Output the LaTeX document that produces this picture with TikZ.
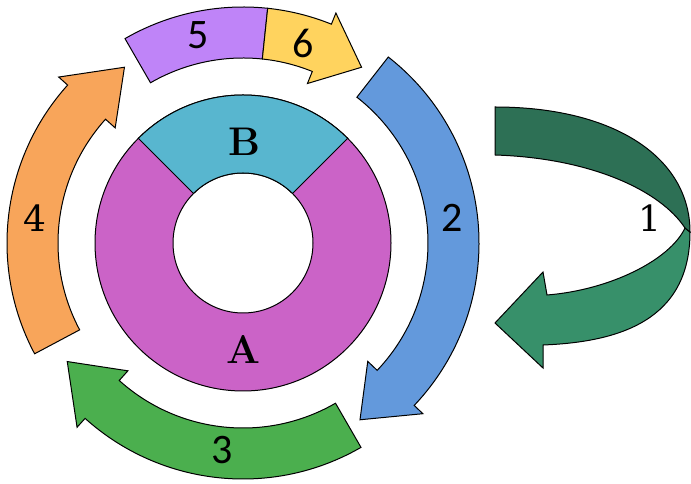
\documentclass[tikz,border=0pt]{standalone}
\usepackage{fontspec}
\newfontfamily\numsans{Carlito}
\newfontfamily\numserif{DejaVu Serif}
\definecolor{segA}{HTML}{CB63C7}
\definecolor{segB}{HTML}{58B6CF}
\definecolor{stepfive}{HTML}{BF84F8}
\definecolor{stepsix}{HTML}{FFD35E}
\definecolor{steptwo}{HTML}{6399DC}
\definecolor{stepthree}{HTML}{4BAF4E}
\definecolor{stepfour}{HTML}{F8A55A}
\definecolor{turnback}{HTML}{2D7055}
\definecolor{turnfront}{HTML}{37906A}
\tikzset{
  outline/.style={draw=black, line width=1pt},
  serifnum/.style={font=\numserif\fontsize{36}{36}\selectfont, inner sep=0pt},
  sansnum/.style={font=\numsans\fontsize{42}{42}\selectfont, inner sep=0pt},
  boldlab/.style={font=\bfseries\fontsize{40}{40}\selectfont, inner sep=0pt},
}
% curved band arrow around the centre: fill, tail angle, head base angle, tip angle
\newcommand\ringarrow[4]{%
  \filldraw[outline, fill=#1] (#2:236) arc[start angle=#2, end angle=#3, radius=236]
    -- (#3:248) -- (#4:212) -- (#3:172) -- (#3:185)
    arc[start angle=#3, end angle=#2, radius=185] -- cycle;}
\begin{document}
\begin{tikzpicture}[x=1pt, y=1pt]
\useasboundingbox (0,0) rectangle (691,484);

\begin{scope}[shift={(243,241)}]
  % donut: segment A with segment B on top
  \filldraw[outline, fill=segA, even odd rule] (0,0) circle[radius=148] (0,0) circle[radius=70];
  \filldraw[outline, fill=segB] (45:148) arc[start angle=45, end angle=135, radius=148]
    -- (135:70) arc[start angle=135, end angle=45, radius=70] -- cycle;

  % outer cycle of arrows
  \filldraw[outline, fill=stepfive] (120:236) arc[start angle=120, end angle=84, radius=236]
    -- (84:185) arc[start angle=84, end angle=120, radius=185] -- cycle;
  \ringarrow{stepsix}{84}{68}{56}
  \ringarrow{steptwo}{52}{-43.5}{-56.5}
  \ringarrow{stepthree}{-60}{-132}{-146}
  \ringarrow{stepfour}{208}{138}{124}
\end{scope}

% U-turn arrow on the right
\filldraw[outline, fill=turnfront] (685,256) -- (690,252)
  .. controls (690,164) and (620,142) .. (543,139)
  -- (543,116) -- (495,161) -- (543,212) -- (547,189)
  .. controls (610,194) and (670,224) .. (685,256) -- cycle;
\filldraw[outline, fill=turnback] (495,377)
  .. controls (615,377) and (690,326) .. (690,252) -- (685,256)
  .. controls (660,294) and (590,326) .. (495,329) -- cycle;

% labels
\node[boldlab] (labB) at (244,342) {B};
\node[boldlab] (labA) at (243,134) {A};
\node[sansnum] (n5) at (198,449) {5};
\node[sansnum] (n6) at (303,441) {6};
\node[sansnum] (n2) at (452,266) {2};
\node[sansnum] (n3) at (222,34) {3};
\node[serifnum] (n4) at (35,266) {4};
\node[serifnum] (n1) at (650,266) {1};
\end{tikzpicture}
\end{document}
